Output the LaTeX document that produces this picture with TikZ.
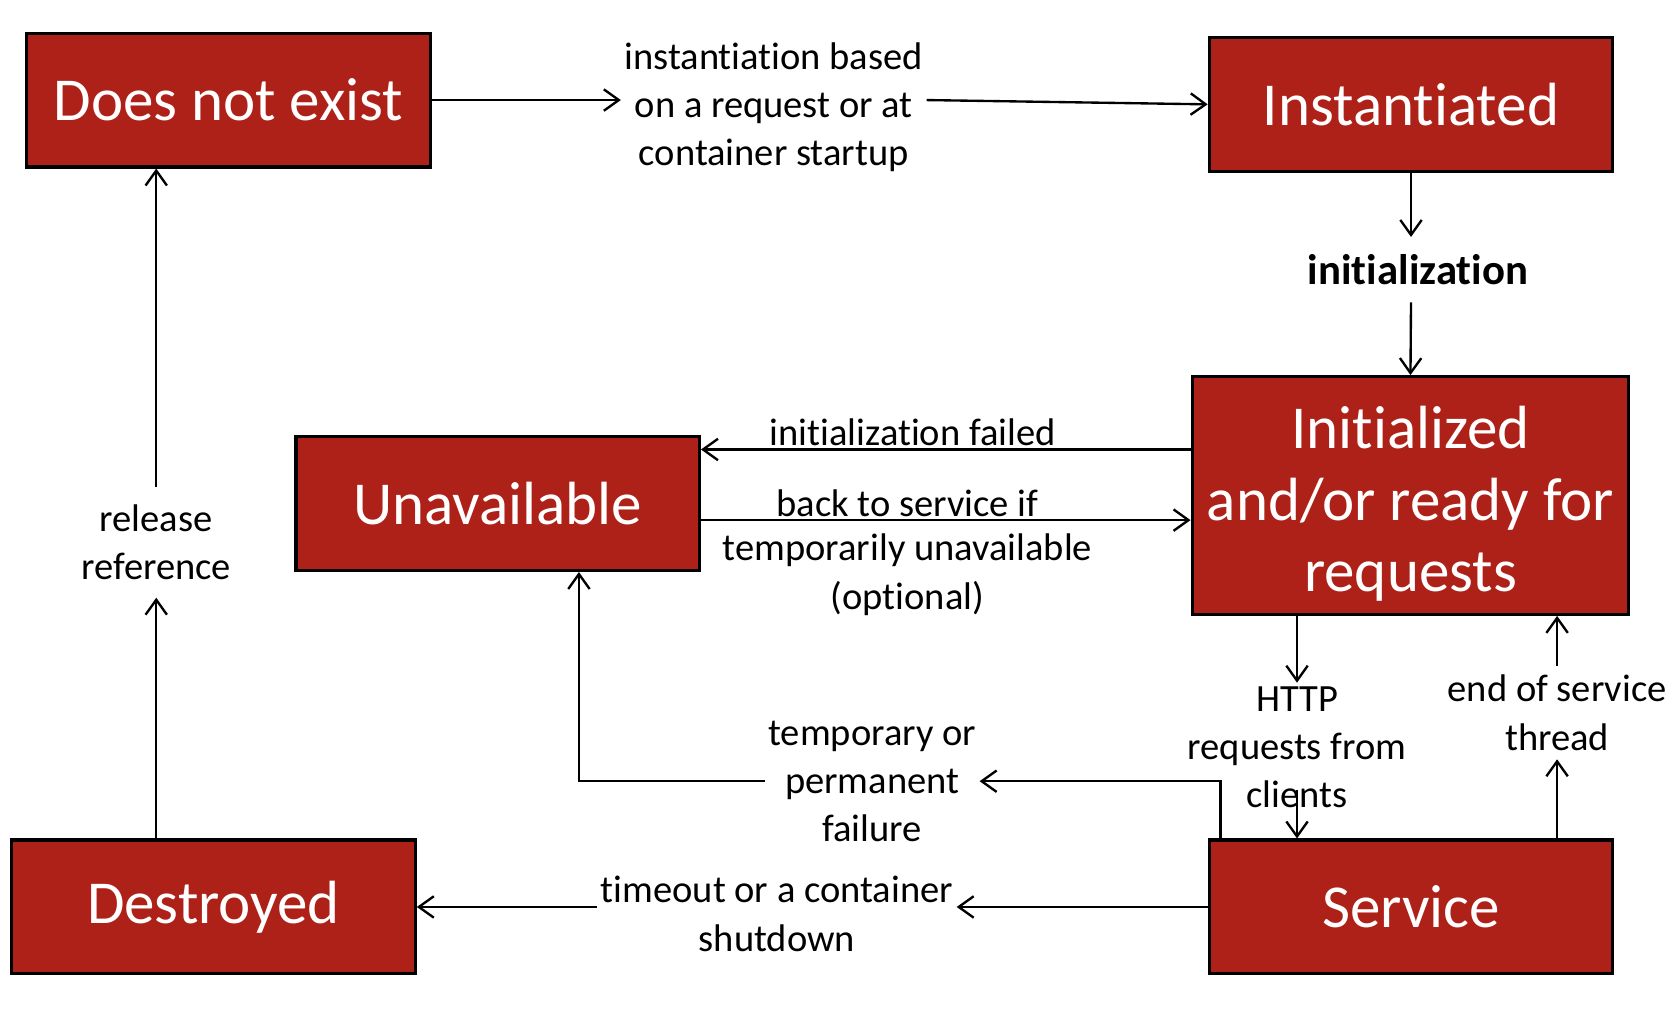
\documentclass[tikz,border=0pt]{standalone}
\usepackage{fontspec}
\setmainfont{Carlito}[Ligatures={NoCommon,NoContextual,NoRequired},Contextuals=NoAlternate]
\usetikzlibrary{arrows.meta}
\definecolor{boxred}{RGB}{174,33,24}

\begin{document}
\begin{tikzpicture}[x=0.5pt, y=-0.5pt,
	state/.style={draw=black, line width=1.5pt, fill=boxred, text=white, align=center,
		minimum width=188.5pt, minimum height=62.5pt, font=\fontsize{28.5}{33.5}\selectfont},
	note/.style={align=center, inner sep=1.5pt, font=\fontsize{18}{22.5}\selectfont},
	flow/.style={line width=1.1pt, -{Straight Barb[length=7pt,width=10pt]}}]
	\useasboundingbox (0,0) rectangle (1568,963);

	% states
	\node[state] (dne) at (213.5,93.5) {Does not exist};
	\node[state] (inst) at (1318.5,97.5) {Instantiated};
	\node[state, minimum width=204pt, minimum height=111pt, text height=96pt, text depth=6pt] (init) at (1318,463) {Initialized\\and/or ready for\\requests};
	\node[state] (unav) at (465,470.5) {Unavailable};
	\node[state] (dest) at (199.5,847.5) {Destroyed};
	\node[state] (serv) at (1318.5,847.5) {Service};

	% transition labels
	\node[note] (inlab) at (723,100) {instantiation based\\on a request or at\\container startup};
	\node[note, inner ysep=8pt, font=\bfseries\fontsize{20}{24}\selectfont] (initlab) at (1325,252) {initialization};
	\node[note] (fail) at (853,404) {initialization failed};
	\node[note] (back) at (848,470) {back to service if};
	\node[note] (backb) at (848,537) {temporarily unavailable\\(optional)};
	\node[note] (http) at (1212,698) {HTTP\\requests from\\clients};
	\node[note, inner ysep=4pt] (eos) at (1455,666) {end of service\\thread};
	\node[note] (tmp) at (815,730) {temporary or\\permanent\\failure};
	\node[note] (tout) at (726,854) {timeout or a container\\shutdown};
	\node[note, inner ysep=8pt] (rel) at (146,507) {release\\reference};

	% transitions
	\draw[flow] (dne.east) -- (dne.east -| inlab.west);
	\draw[flow] (inlab.east |- dne.east) -- (inst.west);
	\draw[flow] (inst.south) -- (inst.south |- initlab.north);
	\draw[flow] (inst.south |- initlab.south) -- (init.north);
	\draw[flow] (init.west |- fail.south) -- (unav.east |- fail.south);
	\draw[flow] (unav.east |- back.south) -- (init.west |- back.south);
	\draw[flow] (init.south -| http.north) -- (http.north);
	\draw[flow] ([yshift=10pt]http.south) -- (serv.north -| http.south);
	\draw[flow] (serv.north -| eos.south) -- (eos.south);
	\draw[flow] (eos.north) -- (init.south -| eos.north);
	\draw[flow] ([xshift=6pt]serv.north west) |- (tmp.east);
	\draw[flow] (tmp.west) -| ([xshift=38pt]unav.south);
	\draw[flow] (serv.west) -- (serv.west -| tout.east);
	\draw[flow] (tout.west |- serv.west) -- (dest.east);
	\draw[flow] (dest.north -| rel.south) -- (rel.south);
	\draw[flow] (rel.north) -- (dne.south -| rel.north);
\end{tikzpicture}
\end{document}
